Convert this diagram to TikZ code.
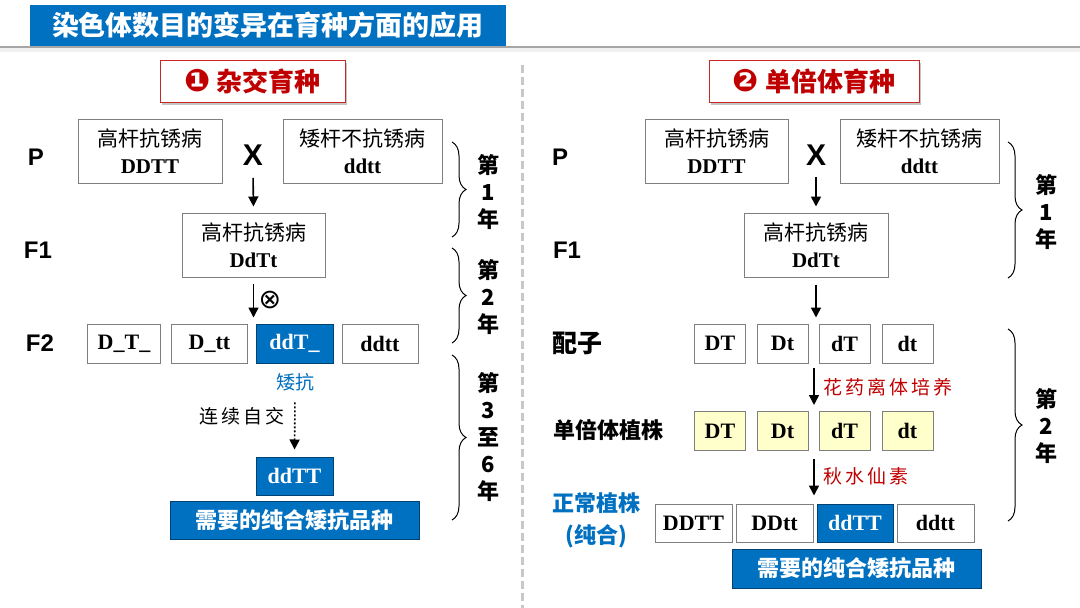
\documentclass[tikz,border=0pt]{standalone}
\usepackage{fontspec}
\setmainfont{Liberation Serif}
\setsansfont{Liberation Sans}
\newfontfamily\cjk{Noto Sans CJK SC}
\newfontfamily\dingfont{DejaVu Sans}
\usetikzlibrary{arrows.meta, positioning, shadows, decorations.pathreplacing}
\definecolor{titleblue}{RGB}{0,112,192}
\definecolor{darkred}{RGB}{192,0,0}
\definecolor{paleyellow}{RGB}{255,255,204}
\definecolor{boxgray}{RGB}{127,127,127}
\definecolor{linegray}{RGB}{200,200,200}

\begin{document}
\begin{tikzpicture}[x=1pt, y=-1pt,
  plant/.style={draw=boxgray, line width=1pt, fill=white, align=center, inner sep=0pt, minimum height=64, font=\fontsize{21}{27}\selectfont},
  gene/.style={draw=boxgray, line width=1pt, fill=white, inner sep=0pt, minimum height=39, font=\fontsize{22}{24}\selectfont\bfseries},
  pick/.style={gene, fill=titleblue, draw=titleblue!60!black, text=white},
  haplo/.style={gene, fill=paleyellow},
  stage/.style={font=\sffamily\bfseries\fontsize{24}{28}\selectfont},
  cross/.style={font=\sffamily\bfseries\fontsize{30}{32}\selectfont},
  cstage/.style={font=\cjk\bfseries\fontsize{22}{32}\selectfont, align=center},
  year/.style={font=\cjk\bfseries\fontsize{22}{27}\selectfont, align=center},
  method/.style={draw=darkred!85, line width=1pt, fill=white, minimum height=42, font=\cjk\bfseries\fontsize{26}{30}\selectfont, text=darkred, drop shadow={shadow xshift=2pt, shadow yshift=-2.5pt, opacity=0.45}},
  result/.style={fill=titleblue, draw=titleblue!60!black, text=white, minimum height=38, inner sep=0pt, font=\cjk\bfseries\fontsize{22}{26}\selectfont},
  arr/.style={-{Triangle[length=10pt, width=10pt]}, line width=1.6pt},
  yrbrace/.style={decorate, decoration={brace, amplitude=14pt}, line width=1pt},
  note/.style={font=\cjk\fontsize{19}{22}\selectfont}
]
  \useasboundingbox (0,0) rectangle (1080,608);
  \fill[white] (0,0) rectangle (1080,608);

  % Title bar and rule
  \fill[gray!12] (0,48) rectangle (1080,52);
  \draw[gray!70, line width=2pt] (0,47) -- (1080,47);
  \node[fill=titleblue, minimum width=476, minimum height=41, inner sep=0pt, text=white,
        font=\cjk\bfseries\fontsize{27}{30}\selectfont] (title) at (268,25.5) {染色体数目的变异在育种方面的应用};

  % Divider between the two methods
  \draw[linegray, line width=3pt, dash pattern=on 8pt off 4pt] (522,65) -- (522,608);

  % Method headers
  \node[method, minimum width=185] (hybrid) at (252.5,81) {{\dingfont\fontsize{31}{30}\selectfont ❶} 杂交育种};
  \node[method, minimum width=210] (haploid) at (814,81.5) {{\dingfont\fontsize{31}{30}\selectfont ❷} 单倍体育种};

  % ---- Left: hybrid breeding ----
  \node[stage] (pL) at (36,157) {P};
  \node[plant, minimum width=144] (tallL) at (150,151.5) {{\cjk 高杆抗锈病}\\\textbf{DDTT}};
  \node[cross] (crossL) at (253,155) {X};
  \node[plant, minimum width=159] (dwarfL) at (362.5,151.5) {{\cjk 矮杆不抗锈病}\\\textbf{ddtt}};

  \node[stage] (f1labL) at (38,250) {F1};
  \node[plant, minimum width=143] (f1L) at (253.5,245) {{\cjk 高杆抗锈病}\\\textbf{DdTt}};

  \node[stage] (f2labL) at (40,343) {F2};
  \node[gene, minimum width=73] (aL) at (124,343.5) {D\_T\_};
  \node[gene, minimum width=76] (bL) at (209.5,343.5) {D\_tt};
  \node[pick, minimum width=77] (cL) at (294.5,343.5) {ddT\_};
  \node[gene, minimum width=76] (dL) at (380,343.5) {ddtt};

  \node[note, text=titleblue] (aikang) at (295,382) {矮抗};
  \node[pick, minimum width=77, minimum height=38] (ddTTL) at (294.5,476) {ddTT};
  \node[result, minimum width=249] (goalL) at (294.5,520.5) {需要的纯合矮抗品种};

  \draw[arr, shorten <=9pt, shorten >=6pt] (crossL.south) -- (f1L.north);
  \draw[arr, shorten <=6pt, shorten >=6pt] (f1L.south) -- (f1L.south |- cL.north)
    node[midway, right=1pt, font=\dingfont\fontsize{27}{28}\selectfont] (selfL) {⊗};
  \draw[arr, dash pattern=on 2pt off 2pt, shorten <=8pt, shorten >=7pt] (aikang.south) -- (ddTTL.north)
    node[pos=0.35, left=6pt, note] (selfingL) {连\,续\,自\,交};

  % Years, left
  \coordinate (y1aL) at (452,142);
  \coordinate (y1bL) at (452,237);
  \coordinate (y2aL) at (452,248);
  \coordinate (y2bL) at (452,343);
  \coordinate (y3aL) at (452,355);
  \coordinate (y3bL) at (452,520);
  \draw[yrbrace] (y1aL) -- (y1bL);
  \draw[yrbrace] (y2aL) -- (y2bL);
  \draw[yrbrace] (y3aL) -- (y3bL);
  \node[year] (yr1L) at (488,192) {第\\1\\年};
  \node[year] (yr2L) at (488,297) {第\\2\\年};
  \node[year] (yr3L) at (488,437) {第\\3\\至\\6\\年};

  % ---- Right: haploid breeding ----
  \node[stage] (pR) at (560,157) {P};
  \node[plant, minimum width=143] (tallR) at (716.5,151.5) {{\cjk 高杆抗锈病}\\\textbf{DDTT}};
  \node[cross] (crossR) at (816,155) {X};
  \node[plant, minimum width=159] (dwarfR) at (919.5,151.5) {{\cjk 矮杆不抗锈病}\\\textbf{ddtt}};

  \node[stage] (f1labR) at (567,250) {F1};
  \node[plant, minimum width=144] (f1R) at (816,245) {{\cjk 高杆抗锈病}\\\textbf{DdTt}};

  \node[cstage, font=\cjk\bfseries\fontsize{25}{30}\selectfont] (gamlab) at (577,343) {配子};
  \node[gene, minimum width=51] (gDT) at (720,343.5) {DT};
  \node[gene, minimum width=51] (gDt) at (782.5,343.5) {Dt};
  \node[gene, minimum width=51] (gdT) at (844.5,343.5) {dT};
  \node[gene, minimum width=51] (gdt) at (907.5,343.5) {dt};

  \node[cstage] (haplab) at (608,430) {单倍体植株};
  \node[haplo, minimum width=51] (hDT) at (720,431) {DT};
  \node[haplo, minimum width=51] (hDt) at (782.5,431) {Dt};
  \node[haplo, minimum width=51] (hdT) at (844.5,431) {dT};
  \node[haplo, minimum width=51] (hdt) at (907.5,431) {dt};

  \node[cstage, text=titleblue] (normlab) at (596,520) {正常植株\\(纯合)};
  \node[gene, minimum width=77, minimum height=38] (nDDTT) at (693.5,523) {DDTT};
  \node[gene, minimum width=77, minimum height=38] (nDDtt) at (774.5,523) {DDtt};
  \node[pick, minimum width=76, minimum height=38] (nddTT) at (855,523) {ddTT};
  \node[gene, minimum width=77, minimum height=38] (nddtt) at (935.5,523) {ddtt};
  \node[result, minimum width=249, minimum height=39] (goalR) at (856.5,568.5) {需要的纯合矮抗品种};

  \coordinate (gsplit) at (814,363);
  \coordinate (hsplit) at (814,450);
  \draw[arr, shorten <=8pt, shorten >=6pt] (crossR.south) -- (f1R.north);
  \draw[arr, shorten <=7pt, shorten >=6pt] (f1R.south) -- (f1R.south |- gDT.north);
  \draw[arr, shorten <=5pt, shorten >=6pt] (gsplit) -- (gsplit |- hDT.north)
    node[midway, right=5pt, note, text=darkred] (antherR) {花\,药\,离\,体\,培\,养};
  \draw[arr, shorten <=9pt, shorten >=8pt] (hsplit) -- (hsplit |- nDDTT.north)
    node[midway, right=5pt, note, text=darkred] (colchR) {秋\,水\,仙\,素};

  % Years, right
  \coordinate (y1aR) at (1008,142);
  \coordinate (y1bR) at (1008,278);
  \coordinate (y2aR) at (1008,329);
  \coordinate (y2bR) at (1008,521);
  \draw[yrbrace] (y1aR) -- (y1bR);
  \draw[yrbrace] (y2aR) -- (y2bR);
  \node[year] (yr1R) at (1046,212) {第\\1\\年};
  \node[year] (yr2R) at (1046,426) {第\\2\\年};

\end{tikzpicture}
\end{document}
